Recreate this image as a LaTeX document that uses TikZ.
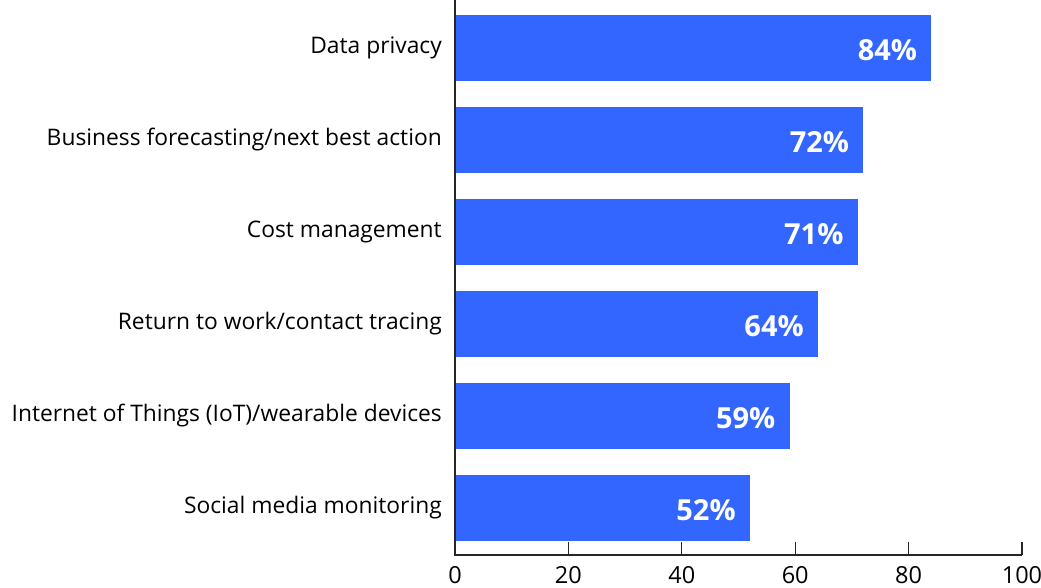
\documentclass[tikz,border=0pt]{standalone}
\usepackage{fontspec}
\setmainfont{Open Sans}
\usepackage{tikz}
\definecolor{barblue}{RGB}{50,102,255}
\tikzset{
  bar/.style={fill=barblue,draw=none},
  catlabel/.style={anchor=east,font=\fontsize{22.8}{26}\selectfont,inner sep=0pt},
  pctlabel/.style={anchor=east,text=white,font=\bfseries\fontsize{29}{32}\selectfont,inner sep=0pt},
  ticklabel/.style={anchor=north,font=\fontsize{23.5}{26}\selectfont,inner sep=0pt},
  axisline/.style={draw=black!85,line width=1.3pt}
}
\begin{document}
\begin{tikzpicture}[x=1pt,y=-1pt]
\useasboundingbox (0,0) rectangle (1041,588);
% bars, top to bottom
\foreach \v/\txt/\k [count=\i from 0] in {84/Data privacy/a,72/Business forecasting\slash next best action/b,71/Cost management/c,64/Return to work\slash contact tracing/d,59/Internet of Things (IoT)\slash wearable devices/e,52/Social media monitoring/f}{
  \fill[bar] (455,15+92*\i) rectangle (455+5.67*\v,81+92*\i);
  \node[catlabel] (cat\k) at (442,48+92*\i) {\txt};
  \node[pctlabel] (pct\k) at (455+5.67*\v-14,50+92*\i) {\v\%};
}
% axes
\coordinate (top) at (455,0);
\coordinate (origin) at (455,555);
\coordinate (xend) at (1022,555);
\draw[axisline] (top) -- (origin) -- (xend);
\foreach \t in {0,20,...,100}{
  \coordinate (tick\t) at (455+5.67*\t,555);
  \draw[axisline] (tick\t) -- ++(0,-13);
  \node[ticklabel] (tl\t) at (455+5.67*\t,566) {\t};
}
\end{tikzpicture}
\end{document}
